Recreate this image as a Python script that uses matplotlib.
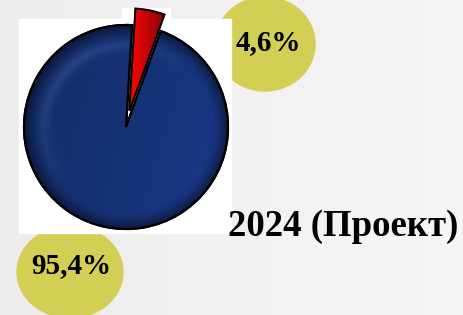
import numpy as np
import matplotlib.pyplot as plt
from matplotlib.patches import Ellipse, Rectangle, Wedge

# data
labels = ["Прочее", "Основное"]
shares = [4.6, 95.4]
share_text = ["4,6%", "95,4%"]
title = "2024 (Проект)"

W, H = 464, 315

fig = plt.figure(figsize=(W / 100, H / 100), dpi=100)
ax = fig.add_axes([0, 0, 1, 1])


def py(y):
    # pixel row (from top) -> data y
    return H - y


# light grey background gradient
xs = np.linspace(0, 1, 200)
bg = 0.925 + 0.035 * xs
bg = np.tile(bg, (10, 1))
ax.imshow(bg, cmap="gray", vmin=0, vmax=1, extent=[0, W, 0, H], aspect="auto", zorder=0)

# yellow label circles (under the white picture)
ax.add_patch(Ellipse((265, py(44)), 100, 94, color="#d3cf55", zorder=1))
ax.add_patch(Ellipse((70, py(272)), 106, 92, color="#d3cf55", zorder=1))

# white picture box
ax.add_patch(Rectangle((19, py(233)), 212, 214, color="white", zorder=2))
ax.add_patch(Rectangle((122, py(19)), 48, 11, color="white", zorder=2))

cx, cy, R = 126, py(127), 102
wedges, _ = ax.pie(shares, colors=["#e30b0b", "#17357a"], startangle=70,
                   explode=[0.165 * R, 0], center=(cx, cy), radius=R, frame=True,
                   wedgeprops=dict(edgecolor="black", linewidth=1.6))
for w in wedges:
    w.set_zorder(3)

# bevel shading on the blue part
n = 300
gx, gy = np.meshgrid(np.linspace(-1, 1, n), np.linspace(1, -1, n))
r = np.sqrt(gx ** 2 + gy ** 2)
shade = np.ones((n, n, 4))
base = np.array([22, 50, 118]) / 255
k = 1 - 0.5 * np.clip((r - 0.84) / 0.16, 0, 1) ** 1.5
k = k * (1 + 0.1 * (gx - gy * 0.3))
hl = np.exp(-((r - 0.8) / 0.06) ** 2) * np.clip(gy - gx, 0, None) * 0.06
for i in range(3):
    shade[..., i] = np.clip(base[i] * k + hl, 0, 1)
im = ax.imshow(shade, extent=[cx - R, cx + R, cy - R, cy + R], zorder=3.5)
im.set_clip_path(wedges[1])
ax.add_patch(Wedge((cx, cy), R, wedges[1].theta1, wedges[1].theta2,
                   fill=False, edgecolor="black", lw=1.6, zorder=4))

# red wedge light face
rc = wedges[0].center
red_shade = np.ones((n, n, 4))
kr = np.clip(1.0 - 0.5 * (gx - 0.05) / 0.35, 0.45, 1)
red_shade[..., 0] = 0.93 * kr
red_shade[..., 1] = 0.02
red_shade[..., 2] = 0.02
imr = ax.imshow(red_shade, extent=[rc[0] - R, rc[0] + R, rc[1] - R, rc[1] + R], zorder=3.5)
imr.set_clip_path(wedges[0])
ax.add_patch(Wedge(rc, R, wedges[0].theta1, wedges[0].theta2,
                   fill=False, edgecolor="black", lw=1.2, zorder=4))

font = dict(family="Liberation Serif", weight="bold", color="black")
ax.text(268, py(43), share_text[0], fontsize=21, ha="center", va="center", zorder=5, **font)
ax.text(71, py(266), share_text[1], fontsize=21, ha="center", va="center", zorder=5, **font)
ax.text(343, py(227), title, fontsize=26.5, ha="center", va="center", zorder=5, **font)

ax.set_xlim(0, W)
ax.set_ylim(0, H)
ax.set_aspect("auto")
ax.axis("off")

fig.savefig("out.png", dpi=100)
